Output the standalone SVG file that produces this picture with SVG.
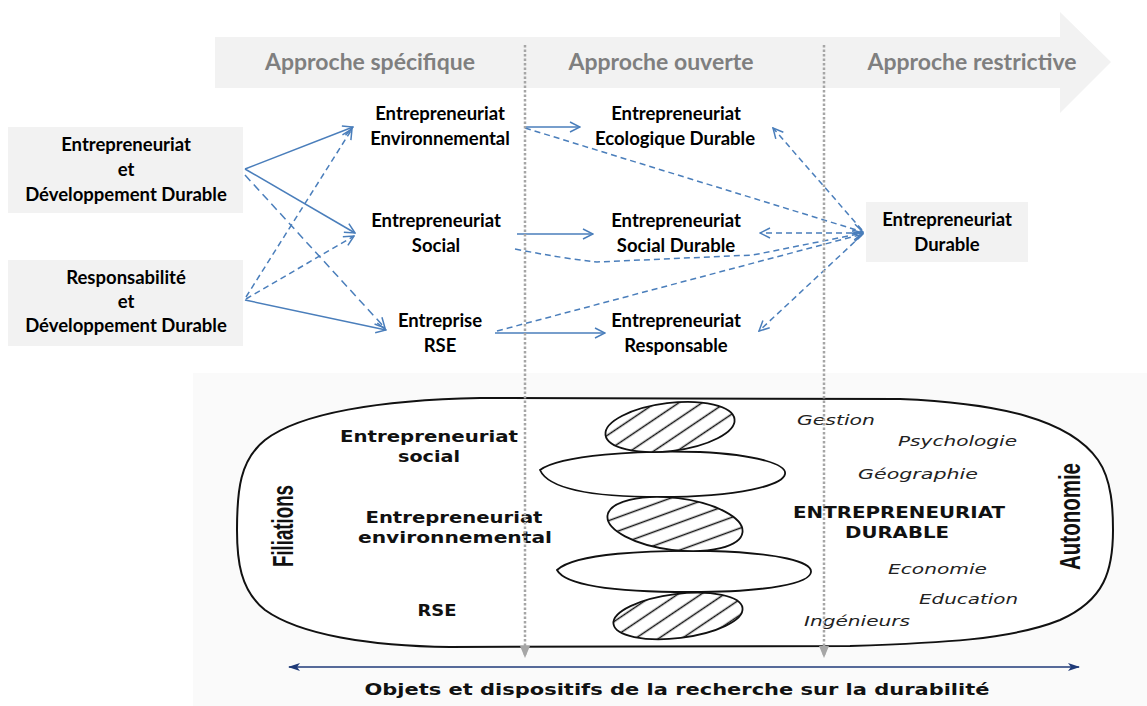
<svg xmlns="http://www.w3.org/2000/svg" width="1147" height="706" viewBox="0 0 1147 706">
<defs>
<style>
.box{fill:#f2f2f2}
.t{font-family:Lato,"Liberation Sans",sans-serif;font-weight:bold;font-size:18.5px;fill:#000;text-anchor:middle}
.band{font-family:Lato,"Liberation Sans",sans-serif;font-weight:bold;font-size:23px;fill:#7f7f7f;text-anchor:middle}
.ln{stroke:#4a7ebb;stroke-width:1.5;fill:none}
.dash{stroke-dasharray:6 4}
.vd{stroke:#a6a6a6;stroke-width:2.5;stroke-dasharray:2.5 2;fill:none}
.b{font-family:"DejaVu Sans",Verdana,sans-serif;font-weight:bold;font-size:15px;fill:#111;text-anchor:middle}
.it{font-family:"DejaVu Sans",Verdana,sans-serif;font-style:italic;font-size:14px;fill:#222}
.nar{font-family:"Liberation Sans",Arial,sans-serif;font-weight:bold;font-size:23px;fill:#111}
.ov{fill:none;stroke:#111;stroke-width:1.8}
</style>
<marker id="ah" markerWidth="12" markerHeight="12" refX="11" refY="6" orient="auto" markerUnits="userSpaceOnUse">
<path d="M1,1 L11,6 L1,11" fill="none" stroke="#4a7ebb" stroke-width="1.5"/>
</marker>
<marker id="gh" markerWidth="10" markerHeight="12" refX="5" refY="10" orient="0" markerUnits="userSpaceOnUse">
<path d="M0,0 L10,0 L5,12 Z" fill="#a6a6a6"/>
</marker>
<marker id="nh" markerWidth="12" markerHeight="10" refX="11" refY="5" orient="auto-start-reverse" markerUnits="userSpaceOnUse">
<path d="M0,1 L12,5 L0,9 L3,5 Z" fill="#1f3a78"/>
</marker>
<pattern id="hatch" width="13" height="13" patternUnits="userSpaceOnUse" patternTransform="rotate(-27)">
<rect width="13" height="13" fill="#fff"/>
<line x1="0" y1="6.5" x2="13" y2="6.5" stroke="#111" stroke-width="1.5"/>
</pattern>
</defs>
<rect width="1147" height="706" fill="#fff"/>

<g id="banner">
<polygon points="215,37 1060,37 1060,12 1111,62 1060,113 1060,88 215,88" fill="#f2f2f2"/>
<text class="band" x="370" y="70">Approche spécifique</text>
<text class="band" x="661" y="70">Approche ouverte</text>
<text class="band" x="972" y="70">Approche restrictive</text>
</g>

<g id="bottom-panel">
<rect x="193" y="373" width="954" height="333" fill="#fafafa"/>
<path id="capsule" d="M480,398 L900,399 C1000,403 1070,420 1098,460 C1112,480 1113,510 1113,530 C1113,570 1105,600 1060,620 C1010,640 940,643 850,646 L450,647 C370,646 300,635 265,610 C240,590 237,560 237,530 C237,490 240,460 265,440 C300,413 380,400 480,398 Z" fill="#fff" stroke="#111" stroke-width="2"/>
<g id="spiral">
<path class="ov" d="M540,470 C560,455 640,450 700,452 C760,455 787,465 785,474 C783,485 740,497 660,497 C590,497 548,488 540,470 Z"/>
<path class="ov" d="M557,570 C575,553 650,550 710,551 C780,553 812,562 811,572 C810,583 770,592 690,592 C610,592 565,585 557,570 Z"/>
<ellipse cx="670" cy="427" rx="65" ry="24" transform="rotate(-7 670 427)" fill="url(#hatch)" stroke="#111" stroke-width="1.8"/>
<ellipse cx="675" cy="524" rx="68" ry="26" transform="rotate(7 675 524)" fill="url(#hatch)" stroke="#111" stroke-width="1.8"/>
<ellipse cx="678" cy="616" rx="65" ry="22" transform="rotate(-7 678 616)" fill="url(#hatch)" stroke="#111" stroke-width="1.8"/>
</g>
<text class="b" x="429" y="442" textLength="178" lengthAdjust="spacingAndGlyphs">Entrepreneuriat</text>
<text class="b" x="429" y="462" textLength="62" lengthAdjust="spacingAndGlyphs">social</text>
<text class="b" x="454" y="523" textLength="177" lengthAdjust="spacingAndGlyphs">Entrepreneuriat</text>
<text class="b" x="455" y="543" textLength="194" lengthAdjust="spacingAndGlyphs">environnemental</text>
<text class="b" x="437" y="616" textLength="39" lengthAdjust="spacingAndGlyphs">RSE</text>
<text class="b" x="899" y="518" textLength="212" lengthAdjust="spacingAndGlyphs">ENTREPRENEURIAT</text>
<text class="b" x="897" y="538" textLength="104" lengthAdjust="spacingAndGlyphs">DURABLE</text>
<text class="it" x="797" y="425" textLength="78" lengthAdjust="spacingAndGlyphs">Gestion</text>
<text class="it" x="898" y="446" textLength="119" lengthAdjust="spacingAndGlyphs">Psychologie</text>
<text class="it" x="858" y="479" textLength="120" lengthAdjust="spacingAndGlyphs">Géographie</text>
<text class="it" x="888" y="574" textLength="99" lengthAdjust="spacingAndGlyphs">Economie</text>
<text class="it" x="919" y="604" textLength="99" lengthAdjust="spacingAndGlyphs">Education</text>
<text class="it" x="804" y="626" textLength="106" lengthAdjust="spacingAndGlyphs">Ingénieurs</text>
<text class="nar" transform="translate(293,567) rotate(-90) scale(1,1.3)" textLength="82" lengthAdjust="spacingAndGlyphs">Filiations</text>
<text class="nar" transform="translate(1080,570) rotate(-90) scale(1,1.3)" textLength="107" lengthAdjust="spacingAndGlyphs">Autonomie</text>
<line x1="289" y1="667" x2="1079" y2="667" stroke="#1f3a78" stroke-width="1.6" marker-start="url(#nh)" marker-end="url(#nh)"/>
<text class="b" x="677" y="695" font-size="16" textLength="625" lengthAdjust="spacingAndGlyphs">Objets et dispositifs de la recherche sur la durabilité</text>
</g>

<g id="node-edd">
<rect class="box" x="8" y="127" width="235" height="86"/>
<text class="t" x="126" y="151">Entrepreneuriat</text>
<text class="t" x="126" y="176">et</text>
<text class="t" x="126" y="201">Développement Durable</text>
</g>
<g id="node-rdd">
<rect class="box" x="8" y="260" width="235" height="86"/>
<text class="t" x="126" y="284">Responsabilité</text>
<text class="t" x="126" y="308">et</text>
<text class="t" x="126" y="332">Développement Durable</text>
</g>
<g id="node-env">
<text class="t" x="440" y="120">Entrepreneuriat</text>
<text class="t" x="440" y="145">Environnemental</text>
</g>
<g id="node-soc">
<text class="t" x="436" y="227">Entrepreneuriat</text>
<text class="t" x="436" y="252">Social</text>
</g>
<g id="node-rse">
<text class="t" x="440" y="327">Entreprise</text>
<text class="t" x="440" y="352">RSE</text>
</g>
<g id="node-eco">
<text class="t" x="676" y="120">Entrepreneuriat</text>
<text class="t" x="675" y="145">Ecologique Durable</text>
</g>
<g id="node-sd">
<text class="t" x="676" y="227">Entrepreneuriat</text>
<text class="t" x="676" y="252">Social Durable</text>
</g>
<g id="node-resp">
<text class="t" x="676" y="327">Entrepreneuriat</text>
<text class="t" x="676" y="352">Responsable</text>
</g>
<g id="node-ed">
<rect class="box" x="866" y="202" width="162" height="60"/>
<text class="t" x="947" y="226">Entrepreneuriat</text>
<text class="t" x="947" y="251">Durable</text>
</g>

<g id="connectors">
<line class="ln" x1="245" y1="169" x2="353" y2="127" marker-end="url(#ah)"/>
<line class="ln" x1="245" y1="169" x2="355" y2="233" marker-end="url(#ah)"/>
<line class="ln" x1="245" y1="300" x2="386" y2="330" marker-end="url(#ah)"/>
<line class="ln" x1="245" y1="175" x2="385" y2="328" stroke-width="2" stroke-dasharray="8 5" marker-end="url(#ah)"/>
<line class="ln dash" x1="246" y1="297" x2="352" y2="129" marker-end="url(#ah)"/>
<line class="ln dash" x1="246" y1="299" x2="354" y2="236" marker-end="url(#ah)"/>
<line class="ln" x1="524" y1="127" x2="580" y2="127" marker-end="url(#ah)"/>
<line class="ln" x1="517" y1="234" x2="593" y2="234" marker-end="url(#ah)"/>
<line class="ln" x1="495" y1="333" x2="605" y2="333" marker-end="url(#ah)"/>
<path class="ln dash" d="M525,128 L863,232" marker-end="url(#ah)"/>
<path class="ln dash" d="M515,249 Q560,258 597,262 L753,255 L863,233" marker-end="url(#ah)"/>
<path class="ln dash" d="M497,331 L863,234" marker-end="url(#ah)"/>
<line class="ln dash" x1="862" y1="230" x2="773" y2="128" marker-end="url(#ah)"/>
<line class="ln dash" x1="862" y1="233" x2="760" y2="233" marker-end="url(#ah)"/>
<line class="ln dash" x1="862" y1="235" x2="759" y2="331" marker-end="url(#ah)"/>
<line class="vd" x1="525" y1="45" x2="525" y2="656" marker-end="url(#gh)"/>
<line class="vd" x1="824" y1="45" x2="824" y2="656" marker-end="url(#gh)"/>
</g>
</svg>
